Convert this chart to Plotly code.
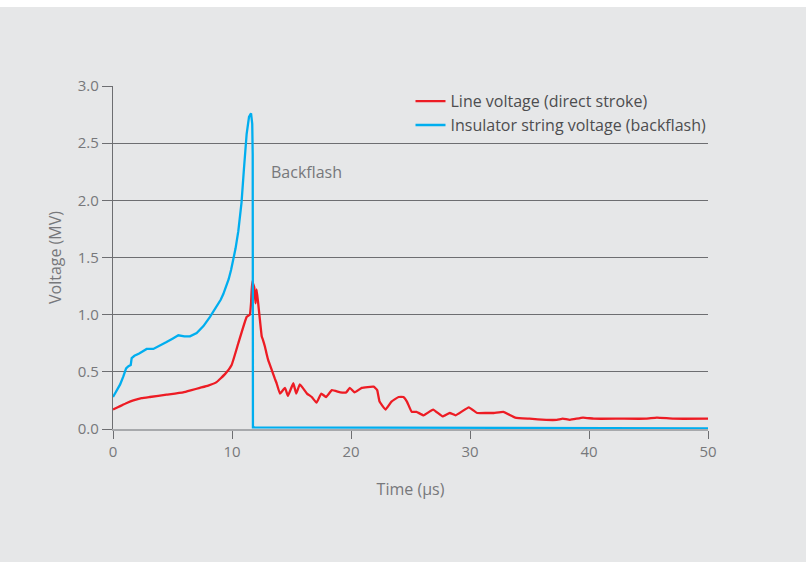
import plotly.graph_objects as go

# Insulator string voltage (backflash), MV vs time in µs
t_ins = [0.0, 0.3, 0.6, 0.87, 1.1, 1.3, 1.49, 1.57, 1.8, 2.2, 2.83, 3.39, 4.0, 4.5, 5.0, 5.49, 6.0, 6.47,
         7.03, 7.6, 8.15, 8.6, 9.05, 9.27, 9.5, 9.72, 9.92, 10.1, 10.3, 10.53, 10.8, 11.0, 11.23, 11.43,
         11.6, 11.7, 11.74, 11.76, 20.0, 30.0, 40.0, 50.0]
v_ins = [0.28, 0.33, 0.39, 0.46, 0.53, 0.55, 0.56, 0.62, 0.64, 0.66, 0.70, 0.70, 0.73, 0.76, 0.79, 0.82,
         0.81, 0.81, 0.84, 0.90, 0.98, 1.05, 1.13, 1.18, 1.24, 1.31, 1.39, 1.47, 1.58, 1.73, 1.98, 2.27,
         2.58, 2.73, 2.76, 2.67, 2.40, 0.015, 0.012, 0.01, 0.008, 0.006]

# Line voltage (direct stroke), MV vs time in µs
t_line = [0.0, 0.4, 0.8, 1.2, 1.71, 2.4, 3.1, 4.5, 5.9, 6.6, 7.3, 8.0, 8.7, 9.41, 9.97, 10.53, 11.23,
          11.5, 11.6, 11.7, 11.87, 11.98, 12.07, 12.2, 12.35, 12.5, 12.6, 12.77, 12.9, 13.05, 13.33,
          13.6, 13.75, 14.03, 14.45, 14.7, 15.15, 15.4, 15.7, 16.3, 16.7, 17.1, 17.5, 17.9, 18.4, 19.1,
          19.6, 19.9, 20.3, 20.9, 21.9, 22.2, 22.4, 22.9, 23.4, 24.0, 24.4, 24.7, 25.1, 25.5, 26.1,
          26.9, 27.7, 28.3, 28.8, 29.9, 30.6, 31.4, 32.0, 32.8, 33.8, 35.0, 36.4, 37.3, 37.8, 38.4,
          39.5, 40.4, 42.6, 44.8, 45.7, 47.1, 50.0]
v_line = [0.17, 0.19, 0.21, 0.23, 0.25, 0.27, 0.28, 0.30, 0.32, 0.34, 0.36, 0.38, 0.41, 0.48, 0.56, 0.75,
          0.98, 1.00, 1.10, 1.29, 1.24, 1.10, 1.22, 1.10, 0.95, 0.81, 0.78, 0.72, 0.66, 0.60, 0.52,
          0.44, 0.40, 0.31, 0.36, 0.29, 0.40, 0.31, 0.39, 0.31, 0.28, 0.23, 0.31, 0.28, 0.34, 0.32,
          0.32, 0.36, 0.32, 0.36, 0.37, 0.34, 0.24, 0.17, 0.24, 0.28, 0.28, 0.24, 0.15, 0.15, 0.12,
          0.17, 0.11, 0.14, 0.12, 0.19, 0.14, 0.14, 0.14, 0.15, 0.10, 0.09, 0.08, 0.08, 0.09, 0.08,
          0.10, 0.09, 0.09, 0.09, 0.10, 0.09, 0.09]

x_ticks = [0, 10, 20, 30, 40, 50]
y_ticks = [0.0, 0.5, 1.0, 1.5, 2.0, 2.5, 3.0]

BG = "#e6e7e8"
TXT = "#77787b"
RED = "#ed1c24"
BLUE = "#00aeef"
FONT = "Open Sans"

W, H = 806, 562
ML, MR, MT, MB = 113, 98, 86, 133
PH = H - MT - MB

fig = go.Figure()
fig.add_trace(go.Scatter(x=t_line, y=v_line, mode="lines", name="Line voltage (direct stroke)",
                         legendgroup="a",
                         line=dict(color=RED, width=2.3, shape="spline", smoothing=0.3)))
fig.add_trace(go.Scatter(x=t_ins, y=v_ins, mode="lines", name="Insulator string voltage (backflash)",
                         legendgroup="b",
                         line=dict(color=BLUE, width=2.3)))

fig.add_annotation(x=13.1, y=2.25, xref="x", yref="y", text="Backflash", showarrow=False,
                   xanchor="left", yanchor="middle", font=dict(family=FONT, size=16, color=TXT))

# white strip along the top edge of the page
fig.add_shape(type="rect", xref="paper", yref="paper", x0=-ML / 595, x1=1 + MR / 595,
              y0=1 + (MT - 7) / PH, y1=1 + (MT + 2) / PH, fillcolor="white", line_width=0, layer="below")

fig.update_layout(
    width=W, height=H,
    margin=dict(l=ML, r=MR, t=MT, b=MB),
    paper_bgcolor=BG, plot_bgcolor=BG,
    font=dict(family=FONT, size=14, color=TXT),
    showlegend=True,
    legend=dict(x=0.5, y=1.005, xanchor="left", yanchor="top", bgcolor="rgba(0,0,0,0)",
                font=dict(family=FONT, size=16, color="#4d4d4f"), itemwidth=30, tracegroupgap=0),
    xaxis=dict(range=[0, 50], tickvals=x_ticks, showgrid=False, zeroline=False,
               showline=True, linecolor="#a7a9ac", linewidth=1.5,
               ticks="outside", ticklen=8, tickcolor="#6d6e71", tickwidth=1.2,
               title=dict(text="Time (µs)", standoff=24, font=dict(size=16, color=TXT)),
               tickfont=dict(size=15, color=TXT)),
    yaxis=dict(range=[0, 3], tickvals=y_ticks, tickformat=".1f", showgrid=True,
               gridcolor="#6d6e71", gridwidth=1, zeroline=False,
               showline=True, linecolor="#6d6e71", linewidth=1.2,
               ticks="outside", ticklen=10, tickcolor="#6d6e71", tickwidth=1.2,
               title=dict(text="Voltage (MV)", standoff=12, font=dict(size=16, color=TXT)),
               tickfont=dict(size=15, color=TXT)),
)

fig.write_html("out.html", config={"displayModeBar": False},
               post_script="document.body.style.margin='0';document.body.style.background='#e6e7e8';")
